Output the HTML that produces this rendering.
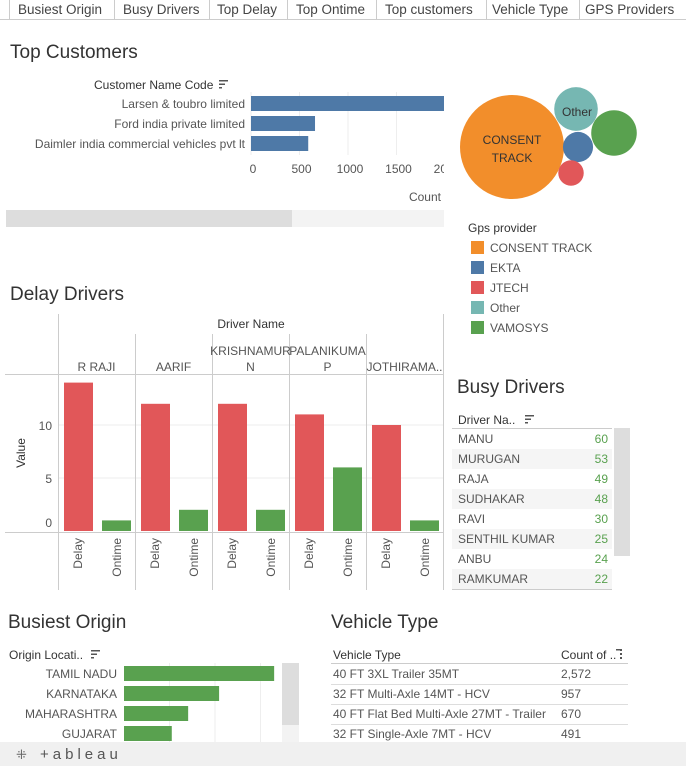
<!DOCTYPE html>
<html><head><meta charset="utf-8"><style>
html,body{margin:0;padding:0;background:#fff;width:686px;height:766px;overflow:hidden}
svg{display:block;font-family:"Liberation Sans",sans-serif}
.t{fill:#555;font-size:12px}
.h{fill:#333;font-size:19px}
</style></head><body>
<svg id="s" width="686" height="766" viewBox="0 0 686 766">
<defs><clipPath id="custclip"><rect x="0" y="60" width="444" height="150"/></clipPath></defs>
<g>
<rect x="0" y="0" width="686" height="19" fill="#fff"/>
<line x1="0" y1="19.5" x2="686" y2="19.5" stroke="#ccc"/>
<g stroke="#ccc"><line x1="9.5" y1="0" x2="9.5" y2="19"/><line x1="114.5" y1="0" x2="114.5" y2="19"/><line x1="209.5" y1="0" x2="209.5" y2="19"/><line x1="287.5" y1="0" x2="287.5" y2="19"/><line x1="376.5" y1="0" x2="376.5" y2="19"/><line x1="486.5" y1="0" x2="486.5" y2="19"/><line x1="579.5" y1="0" x2="579.5" y2="19"/></g>
<g font-size="13.5" fill="#444">
<text x="18" y="14">Busiest Origin</text>
<text x="123" y="14">Busy Drivers</text>
<text x="217" y="14">Top Delay</text>
<text x="296" y="14">Top Ontime</text>
<text x="385" y="14">Top customers</text>
<text x="492" y="14">Vehicle Type</text>
<text x="585" y="14">GPS Providers</text>
</g></g>

<text class="h" x="10" y="58">Top Customers</text>
<text class="t" x="94" y="89" style="fill:#333">Customer Name Code</text>
<g fill="#555"><rect x="219" y="80" width="9" height="1.5"/><rect x="219" y="83.5" width="6" height="1.5"/><rect x="219" y="87" width="3" height="1.5"/></g>
<g id="cust" clip-path="url(#custclip)"></g>
<rect x="6" y="210" width="438" height="17" fill="#f3f3f3"/>
<rect x="6" y="210" width="286" height="17" fill="#ddd"/>

<g id="bubbles"></g>
<text class="t" x="468" y="232" style="fill:#333">Gps provider</text>
<g id="legend"></g>

<text class="h" x="10" y="300">Delay Drivers</text>
<g id="delay"></g>

<text class="h" x="457" y="393">Busy Drivers</text>
<text class="t" x="458" y="424" style="fill:#333">Driver Na..</text>
<g fill="#555"><rect x="525" y="415" width="9" height="1.5"/><rect x="525" y="418.5" width="6" height="1.5"/><rect x="525" y="422" width="3" height="1.5"/></g>
<line x1="452" y1="428.5" x2="612" y2="428.5" stroke="#ccc"/>
<g id="busy"></g>
<rect x="614" y="428" width="16" height="128" fill="#ddd"/>

<text class="h" x="8" y="628">Busiest Origin</text>
<text class="t" x="9" y="659" style="fill:#333">Origin Locati..</text>
<g fill="#555"><rect x="91" y="650" width="9" height="1.5"/><rect x="91" y="653.5" width="6" height="1.5"/><rect x="91" y="657" width="3" height="1.5"/></g>
<g id="origin"></g>
<rect x="282" y="663" width="17" height="80" fill="#f3f3f3"/>
<rect x="282" y="663" width="17" height="62" fill="#ddd"/>

<text class="h" x="331" y="628">Vehicle Type</text>
<text class="t" x="333" y="659" style="fill:#333">Vehicle Type</text>
<text class="t" x="561" y="659" style="fill:#333">Count of ..</text>
<g fill="#555"><rect x="620" y="649" width="2" height="2"/><rect x="620" y="653" width="2" height="2"/><rect x="620" y="657" width="2" height="2"/><rect x="616" y="649" width="4" height="1.5"/></g>
<line x1="331" y1="663.5" x2="628" y2="663.5" stroke="#ccc"/>
<g id="veh"></g>

<g>
<rect x="0" y="742" width="686" height="24" fill="#f0f0f0"/>
<text x="16" y="759" font-size="13" fill="#666">⁜</text>
<text x="40" y="759" font-size="15" fill="#555" letter-spacing="4">+ableau</text>
</g>
</svg>
<script>
var NS="http://www.w3.org/2000/svg";
function mk(p,tag,a,txt){var e=document.createElementNS(NS,tag);for(var k in a)e.setAttribute(k,a[k]);if(txt!==undefined)e.textContent=txt;p.appendChild(e);return e;}

var custNames=["Larsen & toubro limited","Ford india private limited","Daimler india commercial vehicles pvt lt"];
var custCounts=[2050,660,590];
var custTicks=[0,500,1000,1500,2000];
(function(){
 var g=document.getElementById("cust"),x0=251,k=0.097,xmax=444;
 function cx(v){return x0+v*k;}
 custTicks.forEach(function(t){var x=cx(t);
  var l=mk(g,"line",{x1:x,y1:92,x2:x,y2:155,stroke:"#eee"});
  
  
  var tx=mk(g,"text",{x:x+2,y:173,"text-anchor":"middle","class":"t"},t);
  
  
 });
 custNames.forEach(function(n,i){var y=96+i*20;
  var w=Math.min(cx(custCounts[i]),xmax)-x0;
  var r=mk(g,"rect",{x:x0,y:y,width:w,height:15,fill:"#4e79a7"});
  
  
  var t=mk(g,"text",{x:245,y:y+12,"text-anchor":"end","class":"t"},n);
  
  
 });
 var c=mk(g,"text",{x:441,y:201,"text-anchor":"end","class":"t"},"Count");
 
 
})();

var gpsNames=["CONSENT TRACK","EKTA","JTECH","Other","VAMOSYS"];
var gpsColors=["#f28e2b","#4e79a7","#e15759","#76b7b2","#59a14f"];
var gpsValues=[1250,105,75,220,240];
(function(){
 var g=document.getElementById("bubbles");
 var centers=[[512,147],[578,147],[571,173],[576,109],[614,133]];
 var rmax=52;
 gpsNames.forEach(function(n,i){
  var r=rmax*Math.sqrt(gpsValues[i]/gpsValues[0]);
  var c=mk(g,"circle",{cx:centers[i][0],cy:centers[i][1],r:r,fill:gpsColors[i]});
  
  
 });
 var t1=mk(g,"text",{x:512,y:144,"text-anchor":"middle","font-size":"12",fill:"#333"},"CONSENT");
 
 
 var t2=mk(g,"text",{x:512,y:162,"text-anchor":"middle","font-size":"12",fill:"#333"},"TRACK");
 
 
 var t3=mk(g,"text",{x:577,y:116,"text-anchor":"middle","font-size":"12",fill:"#333"},"Other");
 
 
 var lg=document.getElementById("legend");
 gpsNames.forEach(function(n,i){var y=241+i*20;
  var r=mk(lg,"rect",{x:471,y:y,width:13,height:13,fill:gpsColors[i]});
  
  
  var t=mk(lg,"text",{x:490,y:y+11,"class":"t"},n);
  
  
 });
})();

var drivers=[["R RAJI"],["AARIF"],["KRISHNAMUR","N"],["PALANIKUMA","P"],["JOTHIRAMA.."]];
var delayVals=[14,12,12,11,10];
var ontimeVals=[1,2,2,6,1];
var delayTicks=[0,5,10];
(function(){
 var g=document.getElementById("delay");
 var x0=58,pw=77,y0=531,k=10.6;
 function vy(v){return y0-v*k;}
 delayTicks.forEach(function(t){
  if(t>0){var l=mk(g,"line",{x1:x0,y1:vy(t),x2:443,y2:vy(t),stroke:"#eee"});
   
   }
  var tx=mk(g,"text",{x:52,y:vy(t)+(t==0?-4:5),"text-anchor":"end","class":"t"},t);
  
  
 });
 for(var i=0;i<=5;i++){var x=x0+i*pw+0.5;
  var l=mk(g,"line",{x1:x,y1:(i==0||i==5)?314:334,x2:x,y2:590,stroke:"#ccc"});
  
  }
 var hl=mk(g,"line",{x1:5,y1:374.5,x2:443,y2:374.5,stroke:"#ccc"});
 
 
 var bl=mk(g,"line",{x1:5,y1:532.5,x2:443,y2:532.5,stroke:"#ccc"});
 
 
 var dn=mk(g,"text",{x:251,y:328,"text-anchor":"middle","font-size":"12",fill:"#333"},"Driver Name");
 
 
 var va=mk(g,"text",{x:0,y:0,"text-anchor":"middle","font-size":"12",fill:"#333",transform:"translate(25,453) rotate(-90)"},"Value");
 
 
 drivers.forEach(function(d,i){
  var px=x0+i*pw, cx=px+pw/2;
  d.forEach(function(line,j){
   var y=d.length==2?(355+j*16):371;
   var t=mk(g,"text",{x:cx,y:y,"text-anchor":"middle","class":"t"},line);
   
   
  });
  var b1=mk(g,"rect",{x:px+6,y:vy(delayVals[i]),width:29,height:delayVals[i]*k,fill:"#e15759"});
  
  
  var b2=mk(g,"rect",{x:px+44,y:vy(ontimeVals[i]),width:29,height:ontimeVals[i]*k,fill:"#59a14f"});
  
  
  var l1=mk(g,"text",{x:0,y:0,"text-anchor":"end","class":"t",transform:"translate("+(px+24)+",538) rotate(-90)"},"Delay");
  
  
  var l2=mk(g,"text",{x:0,y:0,"text-anchor":"end","class":"t",transform:"translate("+(px+63)+",538) rotate(-90)"},"Ontime");
  
  
 });
})();

var busyNames=["MANU","MURUGAN","RAJA","SUDHAKAR","RAVI","SENTHIL KUMAR","ANBU","RAMKUMAR"];
var busyCounts=[60,53,49,48,30,25,24,22];
(function(){
 var g=document.getElementById("busy");
 busyNames.forEach(function(n,i){var y=429+i*20;
  if(i%2==1){var r=mk(g,"rect",{x:452,y:y,width:160,height:20,fill:"#f5f5f5"});
   
   }
  var t=mk(g,"text",{x:458,y:y+14,"class":"t"},n);
  
  
  var v=mk(g,"text",{x:608,y:y+14,"text-anchor":"end","font-size":"12",fill:"#59a14f"},busyCounts[i]);
  
  
 });
 var l=mk(g,"line",{x1:452,y1:589.5,x2:612,y2:589.5,stroke:"#ccc"});
 
 
})();

var originNames=["TAMIL NADU","KARNATAKA","MAHARASHTRA","GUJARAT"];
var originCounts=[330,209,141,105];
var originGrid=[100,200,300];
(function(){
 var g=document.getElementById("origin"),x0=124,k=0.455;
 originGrid.forEach(function(t){
  var l=mk(g,"line",{x1:x0+t*k,y1:663,x2:x0+t*k,y2:742,stroke:"#eee"});
  
  
 });
 originNames.forEach(function(n,i){var y=666+i*20;
  var r=mk(g,"rect",{x:x0,y:y,width:originCounts[i]*k,height:15,fill:"#59a14f"});
  
  
  var t=mk(g,"text",{x:117,y:y+12,"text-anchor":"end","class":"t"},n);
  
  
 });
})();

var vehNames=["40 FT 3XL Trailer 35MT","32 FT Multi-Axle 14MT - HCV","40 FT Flat Bed Multi-Axle 27MT - Trailer","32 FT Single-Axle 7MT - HCV"];
var vehCounts=["2,572","957","670","491"];
(function(){
 var g=document.getElementById("veh");
 vehNames.forEach(function(n,i){var y=664+i*20;
  var t=mk(g,"text",{x:333,y:y+14,"class":"t"},n);
  
  
  var v=mk(g,"text",{x:561,y:y+14,"class":"t"},vehCounts[i]);
  
  
  var l=mk(g,"line",{x1:331,y1:y+20.5,x2:628,y2:y+20.5,stroke:"#ddd"});
  
  
 });
})();
</script>
</body></html>
